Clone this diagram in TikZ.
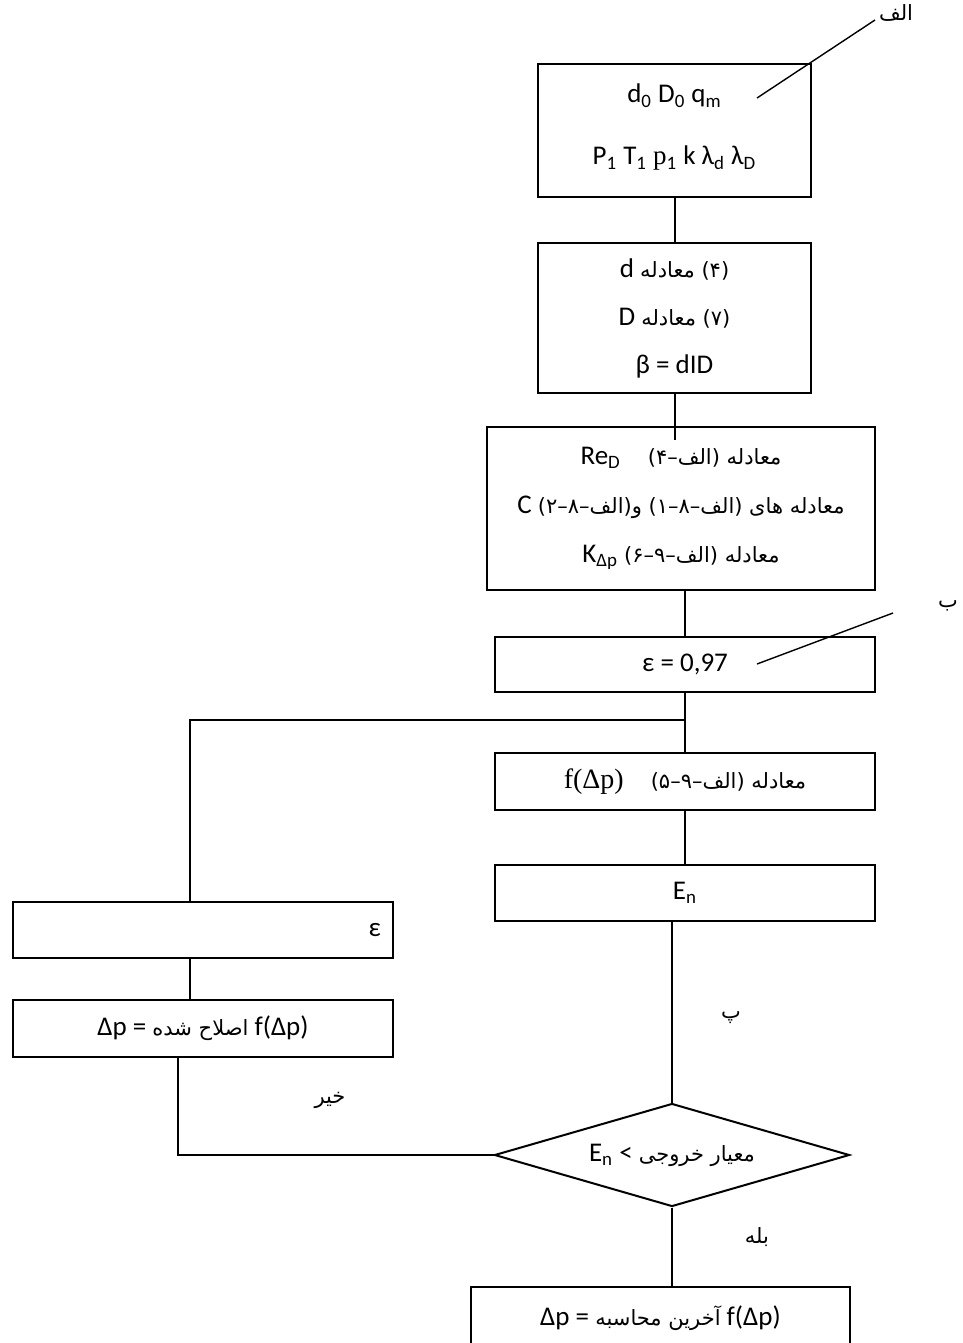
\documentclass[tikz,border=0pt]{standalone}
\usepackage{fontspec}
\setmainfont{Carlito}
\newfontfamily\arabicfont[Script=Arabic]{DejaVu Sans}
\newfontfamily\timesfont{Liberation Serif}
\TeXXeTstate=1
\usetikzlibrary{shapes.geometric}
\newcommand{\fa}[1]{{\arabicfont\fontsize{10.5}{13}\selectfont\beginR #1\endR}}

\begin{document}
\begin{tikzpicture}[x=0.5pt,y=-0.5pt,line width=1pt,
                    font=\fontsize{13.5}{16}\selectfont]
  \tikzstyle{box}=[rectangle,draw=black,fill=white,align=center,inner sep=0pt]
  \tikzstyle{decision}=[diamond,draw=black,fill=white,inner sep=0pt,aspect=3.45]
  \tikzstyle{tag}=[inner sep=1pt,font=\arabicfont\fontsize{10.5}{13}\selectfont]

  \useasboundingbox (0,0) rectangle (963,1343);

  \node[box,minimum width=136.5pt,minimum height=66.5pt] (b1) at (674.5,130.5)
       {d\textsubscript{0} D\textsubscript{0} q\textsubscript{m}\\[15pt]
        P\textsubscript{1} T\textsubscript{1} {\timesfont p}\textsubscript{1} k λ\textsubscript{d} λ\textsubscript{D}\\[-10pt]\mbox{}};
  \node[box,minimum width=136.5pt,minimum height=75pt] (b2) at (674.5,318)
       {d \fa{(۴) معادله}\\[8pt]
        D \fa{(۷) معادله}\\[8pt]
        β = dID};
  \node[box,minimum width=194pt,minimum height=81.5pt] (b3) at (681,508.5)
       {Re\textsubscript{D}\quad\fa{معادله (الف–۴)}\\[8.5pt]
        C \fa{معادله های (الف–۸–۱) و(الف–۸–۲)}\\[8.5pt]
        K\textsubscript{Δp} \fa{معادله (الف–۹–۶)}};
  \node[box,minimum width=190pt,minimum height=27.5pt] (b4) at (685,664.5) {ε = 0,97};
  \node[box,minimum width=190pt,minimum height=28.5pt] (b5) at (685,781.5)
       {{\timesfont\fontsize{14}{16}\selectfont f(Δp)}\quad\fa{معادله (الف–۹–۵)}};
  \node[box,minimum width=190pt,minimum height=28pt] (b6) at (685,893) {E\textsubscript{n}};
  \node[box,minimum width=190pt,minimum height=28pt,text width=178pt,align=right] (l1) at (203,930) {ε};
  \node[box,minimum width=190pt,minimum height=28.5pt] (l2) at (203,1028.5)
       {Δp = \fa{اصلاح شده} f(Δp)};
  \node[decision,minimum width=177.5pt,minimum height=51.5pt] (d) at (672,1155)
       {E\textsubscript{n} < \fa{معیار خروجی}};
  \node[box,minimum width=189.5pt,minimum height=31pt] (b7) at (660.5,1318)
       {Δp = \fa{آخرین محاسبه} f(Δp)};

  \node[tag] (alef) at (896,13) {الف};
  \node[tag] (be) at (948,606) {ب};
  \node[tag] (pe) at (731,1018) {پ};
  \node[tag] (no) at (330,1100) {خیر};
  \node[tag] (yes) at (757,1237) {بله};

  \coordinate (c1) at (674.5,440);
  \coordinate (j0) at (685,720);
  \coordinate (j1) at (190,720);
  \coordinate (k) at (178,1155);
  \coordinate (a0) at (757,98);
  \coordinate (a1) at (875,20);
  \coordinate (e0) at (757,664);
  \coordinate (e1) at (893,613);

  \path (b1) edge (b2)
        (b4) edge (b5)
        (b5) edge (b6);
  \draw (b2.south) -- (c1);
  \draw (b3.south -| b4.north) -- (b4.north);
  \draw (j0) -- (j1) -- (j1 |- l1.north);
  \draw (l1.south -| j1) -- (l2.north -| j1);
  \draw (l2.south -| k) -- (k) -- (d.west);
  \draw (b6.south -| d.north) -- (d.north);
  \draw (d.south) -- (d.south |- b7.north);
  \draw[line width=0.7pt] (a0) -- (a1);
  \draw[line width=0.7pt] (e0) -- (e1);

\end{tikzpicture}
\end{document}
